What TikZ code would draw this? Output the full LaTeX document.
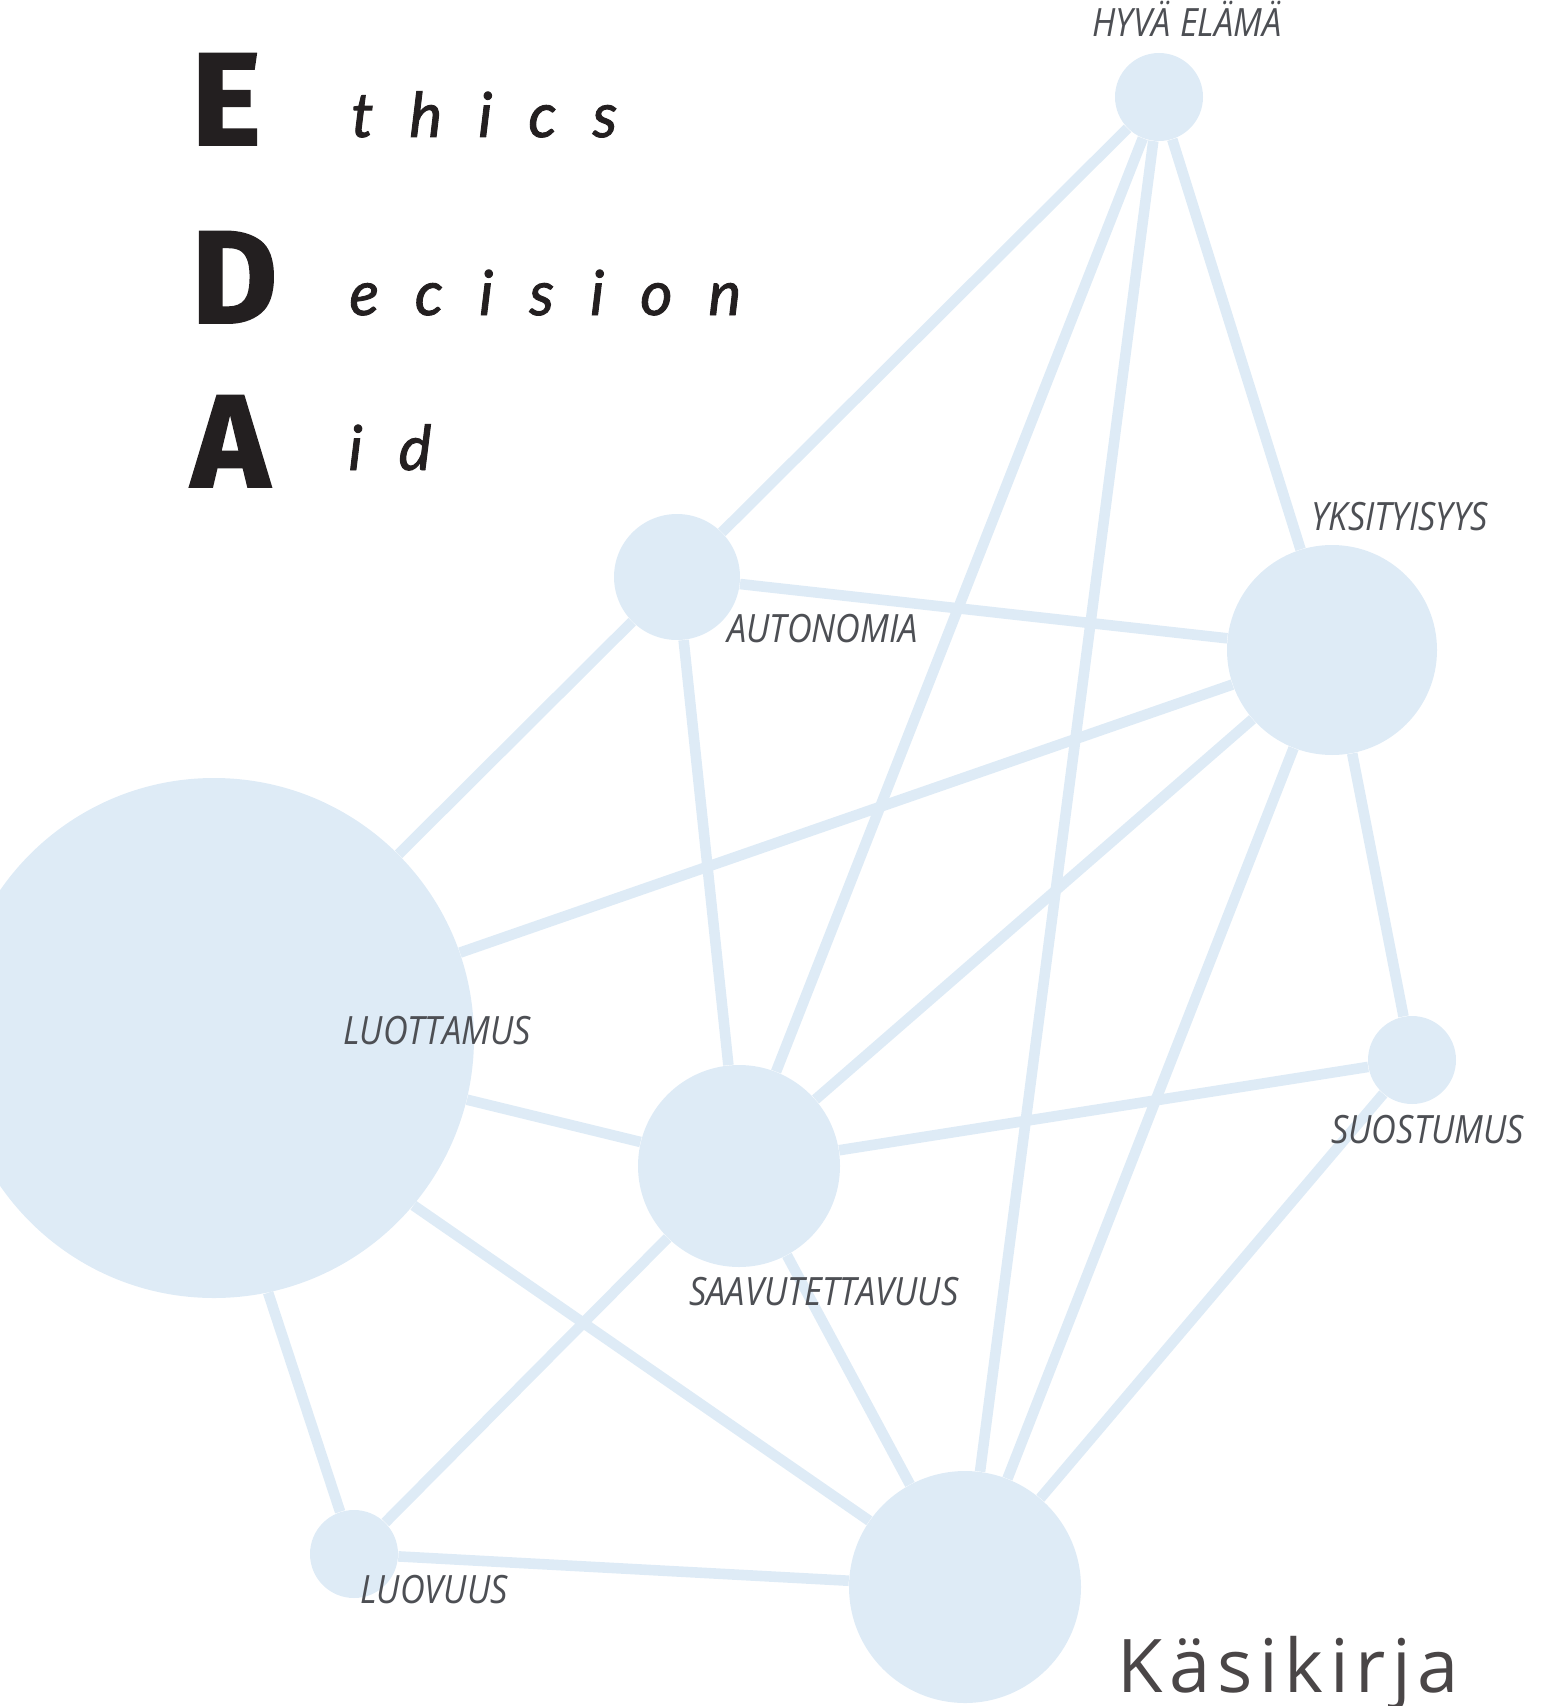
\documentclass[tikz,border=0pt]{standalone}
\usepackage{fontspec}
\setmainfont{Open Sans}
\newfontfamily\lblfont[FakeStretch=0.88]{Open Sans}
\newfontfamily\edabig[FakeBold=1.5]{Fira Sans}
\newfontfamily\edasmall[LetterSpace=58,FakeBold=1.5]{Lato}
\newfontfamily\handfont[LetterSpace=9]{Open Sans}
\definecolor{nodeblue}{RGB}{222,235,246}
\definecolor{labelgray}{RGB}{77,79,84}
\definecolor{edablack}{RGB}{35,31,32}
\definecolor{handgray}{RGB}{74,70,71}
\begin{document}
\begin{tikzpicture}[x=0.5pt,y=-0.5pt,
  nodec/.style={circle, fill=nodeblue, draw=none, inner sep=0pt},
  edgeline/.style={draw=nodeblue, line width=5.3pt},
  lbl/.style={font=\lblfont\itshape\fontsize{19.5}{21}\selectfont, text=labelgray, inner sep=0pt, anchor=base west},
  bigletter/.style={font=\edabig\bfseries\fontsize{66}{72}\selectfont, text=edablack, inner sep=0pt, anchor=base west},
  smallword/.style={font=\edasmall\itshape\fontsize{31}{34}\selectfont, text=edablack, inner sep=0pt, anchor=base west},
  hand/.style={font=\handfont\fontsize{37}{40}\selectfont, text=handgray, inner sep=0pt, anchor=base west}]
\useasboundingbox (0,0) rectangle (1544,1706);
\clip (0,0) rectangle (1544,1706);
% circles
\node[nodec, minimum size=44pt] (H) at (1159,97) {};
\node[nodec, minimum size=105pt] (Y) at (1332,650) {};
\node[nodec, minimum size=63pt] (A) at (677,577) {};
\node[nodec, minimum size=260pt] (L) at (214,1038) {};
\node[nodec, minimum size=101pt] (S) at (739,1166) {};
\node[nodec, minimum size=44pt] (U) at (1412,1060) {};
\node[nodec, minimum size=44pt] (V) at (354,1554) {};
\node[nodec, minimum size=116pt] (K) at (965,1587) {};
% connectors
\draw[edgeline] (H) -- (A);
\draw[edgeline] (A) -- (L);
\draw[edgeline] (H) -- (S);
\draw[edgeline] (H) -- (K);
\draw[edgeline] (H) -- (Y);
\draw[edgeline] (A) -- (Y);
\draw[edgeline] (L) -- (Y);
\draw[edgeline] (S) -- (Y);
\draw[edgeline] (Y) -- (K);
\draw[edgeline] (Y) -- (U);
\draw[edgeline] (A) -- (S);
\draw[edgeline] (L) -- (S);
\draw[edgeline] (S) -- (U);
\draw[edgeline] (S) -- (V);
\draw[edgeline] (S) -- (K);
\draw[edgeline] (L.-40) -- (K);
\draw[edgeline] (L.-78) -- (V);
\draw[edgeline] (V) -- (K);
\draw[edgeline] (U) -- (K);
% labels
\node[lbl] (lH) at (1092,37) {HYVÄ ELÄMÄ};
\node[lbl] (lY) at (1311,530) {YKSITYISYYS};
\node[lbl] (lA) at (727,642) {AUTONOMIA};
\node[lbl] (lL) at (343,1044) {LUOTTAMUS};
\node[lbl] (lS) at (689,1305) {SAAVUTETTAVUUS};
\node[lbl] (lU) at (1331,1143) {SUOSTUMUS};
\node[lbl] (lV) at (360,1603) {LUOVUUS};
% title
\node[bigletter] (bE) at (191,145) {E};
\node[bigletter] (bD) at (191,323) {D};
\node[bigletter] (bA) at (191,487) {A};
\node[smallword] (wE) at (351,137) {thics};
\node[smallword] (wD) at (349,315) {ecision};
\node[smallword] (wA) at (348,470) {id};
\node[hand] (kk) at (1117,1692) {Käsikirja};
\end{tikzpicture}
\end{document}
